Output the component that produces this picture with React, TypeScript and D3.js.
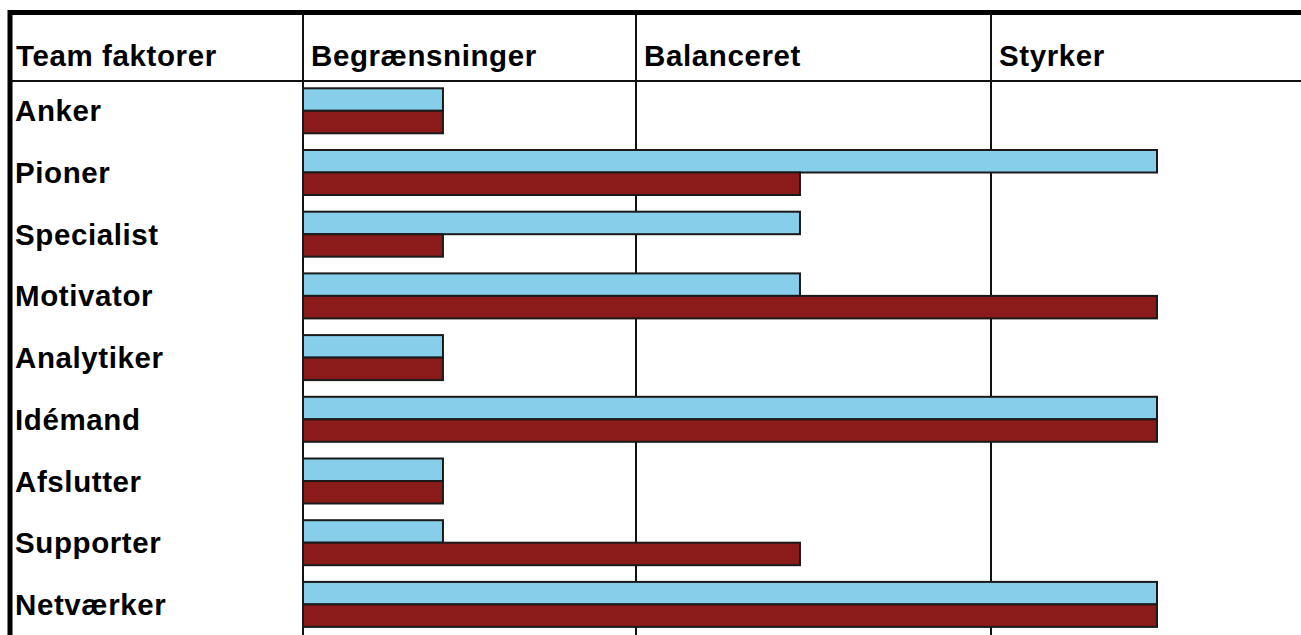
import React, { useEffect } from "react";
import * as d3 from "d3";

const categories = ["Anker", "Pioner", "Specialist", "Motivator", "Analytiker", "Idémand", "Afslutter", "Supporter", "Netværker"];
const seriesKeys = ["blue", "red"];
const blueValues = [1, 3, 2, 2, 1, 3, 1, 1, 3];
const redValues = [1, 2, 1, 3, 1, 3, 1, 2, 3];
const seriesColors = ["#87CEEB", "#8B1A1A"];
const rowHeader = "Team faktorer";
const columnLabels = ["Begrænsninger", "Balanceret", "Styrker"];
const columnStarts = [0.608, 1.541, 2.535];
const axisMin = 0.608;
const axisMax = 3;

const W = 1301;
const H = 635;

export default function App() {
  useEffect(() => {
    document.body.style.margin = "0";
  }, []);

  const x = d3.scaleLinear().domain([axisMin, axisMax]).range([303, 1157]);
  const y0 = d3
    .scaleBand<string>()
    .domain(categories)
    .range([88.3, 626.9])
    .paddingInner(0.2707)
    .paddingOuter(0);
  const y1 = d3.scaleBand<string>().domain(seriesKeys).range([0, y0.bandwidth()]);

  const series = [blueValues, redValues];
  const font = "'Liberation Sans', Arial, sans-serif";
  const headerLineY = 81;

  return (
    <div style={{ position: "absolute", left: 0, top: 0 }}>
      <svg width={W} height={H} style={{ display: "block", background: "#fff" }}>
        {/* header separator */}
        <line x1={10} x2={W} y1={headerLineY} y2={headerLineY} stroke="#111" strokeWidth={2} />
        {/* column lines */}
        {columnStarts.map((v, i) => (
          <line key={"c" + i} x1={Math.round(x(v))} x2={Math.round(x(v))} y1={12} y2={H} stroke="#111" strokeWidth={2} />
        ))}
        {/* frame */}
        <line x1={8} x2={W} y1={12.5} y2={12.5} stroke="#000" strokeWidth={5} />
        <line x1={10} x2={10} y1={10} y2={H} stroke="#000" strokeWidth={5} />
        {/* header text */}
        <text x={16} y={66} fontFamily={font} fontWeight="bold" fontSize={29.5} letterSpacing={0.6} fill="#000">
          {rowHeader}
        </text>
        {columnLabels.map((lab, i) => (
          <text key={lab} x={x(columnStarts[i]) + 8} y={66} fontFamily={font} fontWeight="bold" fontSize={29.5} letterSpacing={0.6} fill="#000">
            {lab}
          </text>
        ))}
        {/* rows */}
        {categories.map((cat, ci) => {
          const top = y0(cat) as number;
          return (
            <g key={cat}>
              <text x={15} y={top + y0.bandwidth() / 2 + 10.5} fontFamily={font} fontWeight="bold" fontSize={29.5} letterSpacing={0.6} fill="#000">
                {cat}
              </text>
              {seriesKeys.map((k, si) => (
                <rect
                  key={k}
                  x={x(axisMin)}
                  y={top + (y1(k) as number)}
                  width={x(series[si][ci]) - x(axisMin)}
                  height={y1.bandwidth()}
                  fill={seriesColors[si]}
                  stroke="#1a1a1a"
                  strokeWidth={2}
                />
              ))}
            </g>
          );
        })}
      </svg>
    </div>
  );
}
